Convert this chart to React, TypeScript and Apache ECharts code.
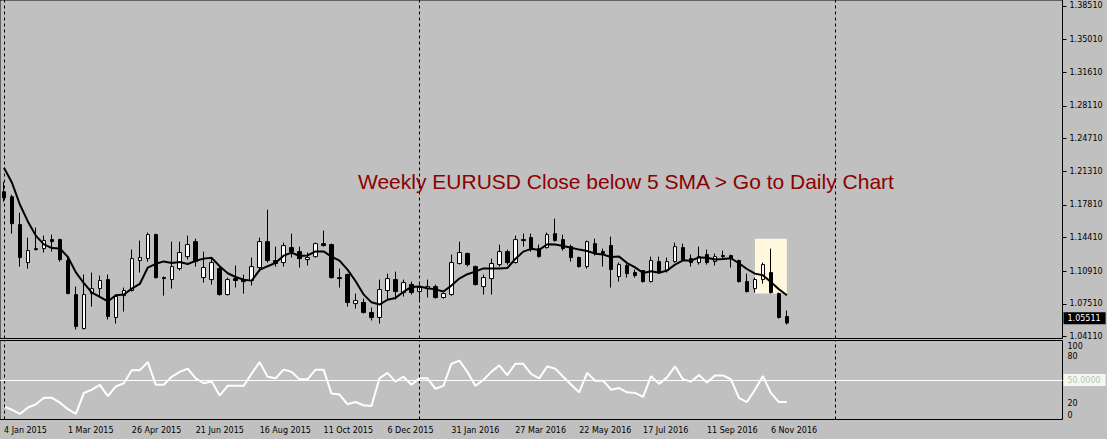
import React, { useEffect, useRef } from "react";
import * as echarts from "echarts";

// ---------- data ----------
const tickLabels = [
  "4 Jan 2015", "1 Mar 2015", "26 Apr 2015", "21 Jun 2015", "16 Aug 2015",
  "11 Oct 2015", "6 Dec 2015", "31 Jan 2016", "27 Mar 2016", "22 May 2016",
  "17 Jul 2016", "11 Sep 2016", "6 Nov 2016",
];

const opens = [
  1.1917, 1.1865, 1.1575, 1.1180, 1.1325, 1.1325, 1.1419, 1.1419, 1.1201, 1.0847,
  1.0493, 1.0857, 1.0909, 1.1003, 1.0608, 1.0836, 1.0889, 1.1201, 1.1221, 1.1471,
  1.1024, 1.1003, 1.1117, 1.1242, 1.1398, 1.1024, 1.1003, 1.1117, 1.0847, 1.1013,
  1.1003, 1.0993, 1.1128, 1.1398, 1.1201, 1.1180, 1.1336, 1.1294, 1.1211, 1.1242,
  1.1377, 1.1367, 1.1024, 1.1055, 1.0753, 1.0764, 1.0660, 1.0608, 1.0889, 1.1003,
  1.0868, 1.0951, 1.0878, 1.0909, 1.0930, 1.0816, 1.0847, 1.1170, 1.1274, 1.1138,
  1.0930, 1.1013, 1.1159, 1.1294, 1.1180, 1.1419, 1.1440, 1.1325, 1.1336, 1.1481,
  1.1419, 1.1346, 1.1232, 1.1138, 1.1377, 1.1294, 1.1357, 1.1034, 1.1149, 1.1076,
  1.1097, 1.0982, 1.1190, 1.1097, 1.1190, 1.1336, 1.1221, 1.1180, 1.1263, 1.1190,
  1.1253, 1.1253, 1.1201, 1.0982, 1.0909, 1.1003, 1.1076, 1.0857, 1.0618,
];
const highs = [
  1.2021, 1.1886, 1.1699, 1.1440, 1.1544, 1.1461, 1.1471, 1.1429, 1.1242, 1.0930,
  1.1055, 1.1076, 1.1045, 1.1055, 1.0847, 1.0920, 1.1315, 1.1409, 1.1492, 1.1481,
  1.1034, 1.1398, 1.1398, 1.1461, 1.1429, 1.1294, 1.1221, 1.1138, 1.1024, 1.1149,
  1.1055, 1.1232, 1.1440, 1.1730, 1.1346, 1.1388, 1.1481, 1.1346, 1.1284, 1.1388,
  1.1513, 1.1377, 1.1117, 1.1065, 1.0857, 1.0805, 1.0712, 1.1003, 1.1065, 1.1086,
  1.1003, 1.0982, 1.0951, 1.1003, 1.0951, 1.0868, 1.1263, 1.1398, 1.1284, 1.1149,
  1.1055, 1.1221, 1.1367, 1.1315, 1.1461, 1.1481, 1.1481, 1.1367, 1.1492, 1.1637,
  1.1471, 1.1367, 1.1242, 1.1409, 1.1429, 1.1325, 1.1450, 1.1180, 1.1180, 1.1107,
  1.1097, 1.1242, 1.1242, 1.1232, 1.1388, 1.1377, 1.1263, 1.1346, 1.1315, 1.1274,
  1.1305, 1.1263, 1.1211, 1.1065, 1.1024, 1.1180, 1.1325, 1.0868, 1.0680,
];
const lows = [
  1.1813, 1.1481, 1.1138, 1.1117, 1.1305, 1.1284, 1.1294, 1.1190, 1.0850, 1.0483,
  1.0483, 1.0722, 1.0826, 1.0587, 1.0545, 1.0670, 1.0878, 1.1076, 1.1190, 1.1013,
  1.0836, 1.0909, 1.1097, 1.1211, 1.1138, 1.0972, 1.0951, 1.0836, 1.0836, 1.0920,
  1.0857, 1.0941, 1.1086, 1.1180, 1.1138, 1.1138, 1.1232, 1.1128, 1.1149, 1.1232,
  1.1346, 1.1013, 1.0920, 1.0722, 1.0701, 1.0649, 1.0577, 1.0545, 1.0795, 1.0795,
  1.0826, 1.0847, 1.0795, 1.0816, 1.0805, 1.0805, 1.0836, 1.1159, 1.1138, 1.0941,
  1.0847, 1.0847, 1.1138, 1.1159, 1.1170, 1.1346, 1.1294, 1.1232, 1.1325, 1.1398,
  1.1305, 1.1190, 1.1128, 1.1117, 1.1253, 1.1138, 1.0920, 1.0982, 1.1024, 1.1024,
  1.0972, 1.0972, 1.1065, 1.1076, 1.1180, 1.1201, 1.1138, 1.1159, 1.1159, 1.1149,
  1.1211, 1.1128, 1.0972, 1.0868, 1.0868, 1.0961, 1.0857, 1.0597, 1.0535,
];
const closes = [
  1.1855, 1.1585, 1.1232, 1.1305, 1.1315, 1.1409, 1.1398, 1.1211, 1.0857, 1.0514,
  1.0847, 1.0909, 1.0993, 1.0618, 1.0826, 1.0889, 1.1221, 1.1232, 1.1471, 1.1024,
  1.1013, 1.1138, 1.1284, 1.1367, 1.1190, 1.1128, 1.1180, 1.0847, 1.1003, 1.0993,
  1.0982, 1.1138, 1.1398, 1.1201, 1.1170, 1.1357, 1.1294, 1.1221, 1.1232, 1.1377,
  1.1357, 1.1024, 1.1013, 1.0764, 1.0784, 1.0660, 1.0608, 1.0899, 1.1013, 1.0878,
  1.0972, 1.0868, 1.0920, 1.0930, 1.0816, 1.0857, 1.1180, 1.1284, 1.1159, 1.0951,
  1.1024, 1.1170, 1.1294, 1.1180, 1.1419, 1.1409, 1.1315, 1.1242, 1.1471, 1.1409,
  1.1325, 1.1232, 1.1138, 1.1398, 1.1274, 1.1274, 1.1107, 1.1159, 1.1065, 1.1045,
  1.0982, 1.1201, 1.1076, 1.1190, 1.1346, 1.1211, 1.1180, 1.1242, 1.1180, 1.1242,
  1.1242, 1.1221, 1.0982, 1.0878, 1.1003, 1.1159, 1.0868, 1.0608, 1.05511,
];
const sma5 = [
  1.2167, 1.2011, 1.1782, 1.1606, 1.1458, 1.1369, 1.1331, 1.1327, 1.1238, 1.1078,
  1.0965, 1.0868, 1.0824, 1.0776, 1.0839, 1.0847, 1.0909, 1.0957, 1.1128, 1.1167,
  1.1192, 1.1175, 1.1186, 1.1165, 1.1198, 1.1221, 1.1229, 1.1142, 1.1069, 1.1030,
  1.1001, 1.0992, 1.1103, 1.1142, 1.1177, 1.1252, 1.1283, 1.1248, 1.1254, 1.1296,
  1.1296, 1.1242, 1.1200, 1.1107, 1.0988, 1.0849, 1.0766, 1.0743, 1.0793, 1.0812,
  1.0874, 1.0926, 1.0930, 1.0913, 1.0901, 1.0878, 1.0940, 1.1013, 1.1059, 1.1086,
  1.1119, 1.1117, 1.1119, 1.1123, 1.1217, 1.1294, 1.1323, 1.1312, 1.1371, 1.1369,
  1.1352, 1.1335, 1.1315, 1.1300, 1.1273, 1.1263, 1.1238, 1.1242, 1.1175, 1.1130,
  1.1071, 1.1090, 1.1073, 1.1098, 1.1159, 1.1204, 1.1200, 1.1234, 1.1231, 1.1211,
  1.1217, 1.1225, 1.1173, 1.1113, 1.1065, 1.1049, 1.0978, 1.0903, 1.0839,
];
const rsi = [
  16.4, 12.3, 7.0, 15.2, 19.3, 27.5, 27.5, 21.3, 13.1, 7.0,
  33.6, 37.7, 43.9, 29.5, 41.8, 45.9, 62.3, 62.3, 72.6, 43.9,
  43.9, 54.1, 60.3, 64.4, 52.1, 45.9, 48.0, 30.3, 42.6, 42.6,
  42.6, 58.2, 72.6, 54.1, 52.1, 63.1, 60.3, 50.8, 50.8, 63.1,
  63.1, 32.8, 31.6, 19.3, 22.1, 18.0, 17.2, 52.1, 59.0, 48.0,
  54.1, 43.9, 52.1, 52.1, 39.0, 42.6, 70.5, 74.6, 60.3, 42.6,
  50.0, 60.3, 68.5, 56.2, 70.5, 70.5, 57.4, 52.1, 67.2, 64.4,
  54.1, 43.9, 34.4, 59.0, 49.2, 49.2, 37.7, 39.8, 34.4, 33.6,
  28.7, 54.9, 45.1, 53.3, 67.2, 50.8, 48.0, 56.2, 46.7, 55.8,
  55.8, 50.8, 27.5, 22.1, 37.7, 54.9, 33.6, 22.1, 22.1,
];
const priceTicks = [
  1.3851, 1.3501, 1.3161, 1.2811, 1.2471, 1.2131, 1.1781, 1.1441, 1.1091, 1.0751, 1.0411,
];
const rsiTickLabels = ["100", "80", "20", "0"];
const lastPrice = 1.05511;
const rsiLevel = 50;
const separatorWeeks = [0, 52, 104];
const highlightWeeks = [94, 98];
const highlightPrices = [1.1429, 1.0857];
const weekCount = 133; // includes empty future weeks
const titleText = "Weekly EURUSD Close below 5 SMA > Go to Daily Chart";

// ---------- derived ----------
const MONTHS = ["Jan", "Feb", "Mar", "Apr", "May", "Jun", "Jul", "Aug", "Sep", "Oct", "Nov", "Dec"];
const startMs = Date.UTC(2015, 0, 4);
const categories = Array.from({ length: weekCount }, (_, i) => {
  const d = new Date(startMs + i * 7 * 86400000);
  return `${d.getUTCDate()} ${MONTHS[d.getUTCMonth()]} ${d.getUTCFullYear()}`;
});
const candleData = opens.map((o, i) => [o, closes[i], lows[i], highs[i]]);

const AX_FONT = "DejaVu Sans";

export default function App() {
  const ref = useRef<HTMLDivElement>(null);
  useEffect(() => {
    document.body.style.margin = "0";
    document.body.style.background = "#c0c0c0";
    const chart = echarts.init(ref.current!, null, { renderer: "svg" });
    const sepLines = separatorWeeks.map((w) => ({ xAxis: categories[w] }));
    const option: any = {
      animation: false,
      backgroundColor: "#c0c0c0",
      textStyle: { fontFamily: AX_FONT },
      grid: [
        { left: -1, right: 44.5, top: -0.5, height: 339, show: true, borderColor: "#000", borderWidth: 1, backgroundColor: "transparent" },
        { left: -1, right: 44.5, top: 340.5, height: 79, show: true, borderColor: "#000", borderWidth: 1, backgroundColor: "transparent" },
      ],
      xAxis: [
        {
          type: "category", gridIndex: 0, data: categories, boundaryGap: true,
          axisLine: { show: false }, axisTick: { show: false }, axisLabel: { show: false }, splitLine: { show: false },
        },
        {
          type: "category", gridIndex: 1, data: categories, boundaryGap: true,
          axisLine: { show: false }, axisTick: { show: false }, splitLine: { show: false },
          axisLabel: {
            show: true,
            interval: (idx: number) => idx % 8 === 0 && idx / 8 < tickLabels.length,
            formatter: (_v: string, idx: number) => (idx % 8 === 0 ? tickLabels[idx / 8] ?? "" : ""),
            align: "left", margin: 7, color: "#000", fontSize: 8, fontFamily: AX_FONT,
          },
        },
      ],
      yAxis: [
        {
          type: "value", gridIndex: 0, position: "right", min: 1.03895, max: 1.39134, scale: true,
          splitLine: { show: false }, axisLine: { show: false },
          axisTick: { show: true, length: 4, inside: false, lineStyle: { color: "#000" }, customValues: priceTicks },
          axisLabel: { customValues: priceTicks, formatter: (v: number) => v.toFixed(5), margin: 7, color: "#000", fontSize: 8, fontFamily: AX_FONT },
        },
        {
          type: "value", gridIndex: 1, position: "right", min: 0, max: 100,
          splitLine: { show: false }, axisLine: { show: false }, axisTick: { show: false },
          axisLabel: {
            customValues: [92.7, 80, 20, 5.1],
            formatter: (v: number) => (v > 90 ? rsiTickLabels[0] : v > 50 ? rsiTickLabels[1] : v > 10 ? rsiTickLabels[2] : rsiTickLabels[3]),
            margin: 5, color: "#000", fontSize: 8, fontFamily: AX_FONT,
          },
        },
      ],
      series: [
        {
          type: "candlestick", xAxisIndex: 0, yAxisIndex: 0, data: candleData, barWidth: 4, z: 2,
          itemStyle: { color: "#ffffff", color0: "#000000", borderColor: "#000000", borderColor0: "#000000", borderWidth: 1 },
          markArea: {
            silent: true,
            itemStyle: { color: "#fff8dc", opacity: 1 },
            data: [[
              { xAxis: categories[highlightWeeks[0]], yAxis: highlightPrices[0] },
              { xAxis: categories[highlightWeeks[1]], yAxis: highlightPrices[1] },
            ]],
          },
          markLine: {
            silent: true, symbol: ["none", "none"],
            data: [{
              yAxis: lastPrice,
              lineStyle: { color: "transparent", width: 0 },
              label: {
                show: true, position: "end", distance: 1, formatter: lastPrice.toFixed(5),
                backgroundColor: "#000", color: "#fff", padding: [2, 5, 2, 4], fontSize: 8, fontFamily: AX_FONT,
              },
            }],
          },
        },
        {
          type: "line", xAxisIndex: 0, yAxisIndex: 0, data: sma5, symbol: "none", z: 3,
          lineStyle: { color: "#000", width: 2 },
          markLine: {
            silent: true, symbol: ["none", "none"], label: { show: false },
            lineStyle: { color: "#000", width: 1, type: [3, 3] },
            data: sepLines,
          },
        },
        {
          type: "line", xAxisIndex: 1, yAxisIndex: 1, data: rsi, symbol: "none", z: 3,
          lineStyle: { color: "#ffffff", width: 2 },
          markLine: {
            silent: true, symbol: ["none", "none"],
            data: [
              ...sepLines.map((d) => ({ ...d, label: { show: false }, lineStyle: { color: "#000", width: 1, type: [3, 3] } })),
              {
                yAxis: rsiLevel,
                lineStyle: { color: "#ffffff", width: 1, type: "solid" },
                label: {
                  show: true, position: "end", distance: 1, formatter: rsiLevel.toFixed(4),
                  backgroundColor: "#f3f9f1", color: "#b4c4b0", padding: [2, 5, 2, 4], fontSize: 8, fontFamily: AX_FONT,
                },
              },
            ],
          },
        },
      ],
      graphic: [
        {
          type: "text", x: 358, y: 181, z: 10, silent: true,
          style: { text: titleText, fill: "#8b0000", fontSize: 21, fontFamily: "Liberation Sans", align: "left", verticalAlign: "middle" },
        },
      ],
    };
    chart.setOption(option);
    return () => chart.dispose();
  }, []);
  return <div ref={ref} style={{ width: 1107, height: 439, background: "#c0c0c0" }} />;
}
